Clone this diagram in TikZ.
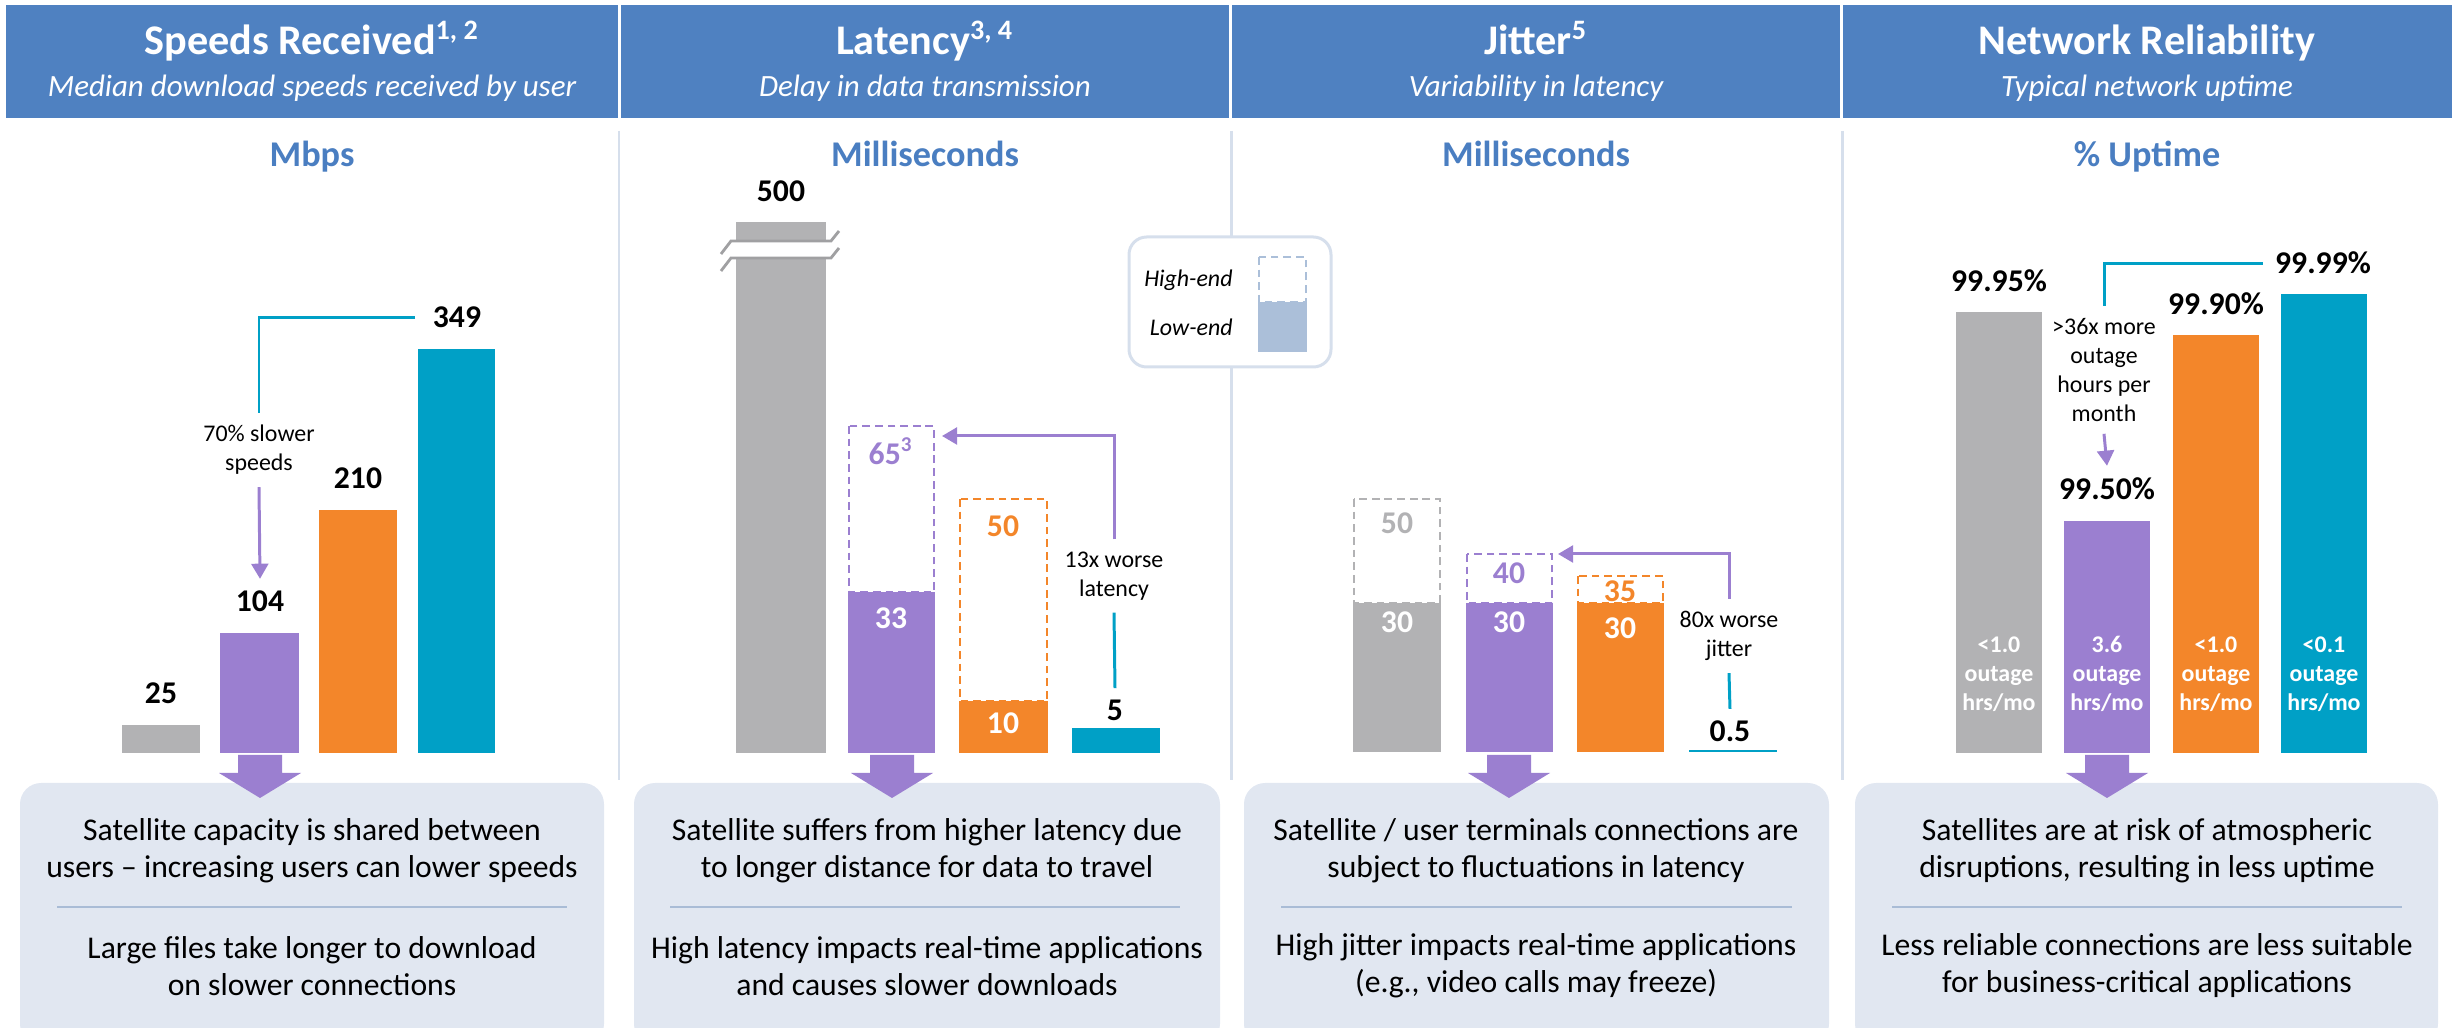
\documentclass[tikz,border=0pt]{standalone}
\usepackage{fontspec}
\setmainfont{Carlito}
\usetikzlibrary{arrows.meta}

\definecolor{hdrblue}{RGB}{79,129,193}
\definecolor{subblue}{RGB}{74,126,193}
\definecolor{bargray}{RGB}{178,178,180}
\definecolor{breakgray}{RGB}{160,160,162}
\definecolor{barpurple}{RGB}{155,127,208}
\definecolor{barorange}{RGB}{243,134,42}
\definecolor{barteal}{RGB}{0,160,198}
\definecolor{boxfill}{RGB}{225,231,241}
\definecolor{rulecol}{RGB}{169,188,214}
\definecolor{sepcol}{RGB}{214,223,236}
\definecolor{legfill}{RGB}{171,191,217}

\begin{document}
\begin{tikzpicture}[x=0.01cm,y=-0.01cm,
    hdrtitle/.style={text=white,font=\fontsize{12}{14}\selectfont\bfseries,anchor=base},
    hdrsub/.style={text=white,font=\fontsize{8.8}{10}\selectfont\itshape,anchor=base},
    unitlabel/.style={text=subblue,font=\fontsize{10.3}{12}\selectfont\bfseries,anchor=base},
    valtext/.style={font=\fontsize{9}{11}\selectfont\bfseries,anchor=base},
    invaltext/.style={font=\fontsize{9}{11}\selectfont\bfseries},
    notetext/.style={font=\fontsize{6.8}{8.2}\selectfont,align=center},
    outagetext/.style={text=white,font=\fontsize{6.8}{8.2}\selectfont\bfseries,align=center},
    sumtext/.style={font=\fontsize{9}{10.5}\selectfont,align=center},
    legtext/.style={font=\fontsize{6.8}{8}\selectfont\itshape,anchor=east},
    hiend/.style={line width=0.7pt,dash pattern=on 2.2pt off 1.4pt},
    linkline/.style={line width=0.85pt},
    tip/.style={-{Triangle[length=4.3pt,width=4.8pt]}}]
  \useasboundingbox (0,0) rectangle (2453,1028);

  % header bands
  \fill[hdrblue] (6,5) rectangle (618,118);
  \fill[hdrblue] (621,5) rectangle (1229,118);
  \fill[hdrblue] (1232,5) rectangle (1840,118);
  \fill[hdrblue] (1843,5) rectangle (2452,118);
  \node[hdrtitle] (t1) at (312,55) {Speeds Received\textsuperscript{1, 2}};
  \node[hdrsub] (s1) at (312,97) {Median download speeds received by user};
  \node[hdrtitle] (t2) at (925,55) {Latency\textsuperscript{3, 4}};
  \node[hdrsub] (s2) at (925,97) {Delay in data transmission};
  \node[hdrtitle] (t3) at (1536,55) {Jitter\textsuperscript{5}};
  \node[hdrsub] (s3) at (1536,97) {Variability in latency};
  \node[hdrtitle] (t4) at (2147,55) {Network Reliability};
  \node[hdrsub] (s4) at (2147,97) {Typical network uptime};

  \node[unitlabel] (u1) at (312,167) {Mbps};
  \node[unitlabel] (u2) at (925,167) {Milliseconds};
  \node[unitlabel] (u3) at (1536,167) {Milliseconds};
  \node[unitlabel] (u4) at (2147,167) {\% Uptime};

  % column separators
  \foreach \sx in {619,1231,1842}
    \draw[sepcol,line width=0.85pt] (\sx,131) -- (\sx,780);

  % legend
  \draw[sepcol,line width=0.85pt,fill=white,rounded corners=5pt] (1129,237) rectangle (1331,367);
  \node[legtext] (leghi) at (1245,280) {High-end};
  \node[legtext] (leglo) at (1245,327) {Low-end};
  \draw[legfill,hiend] (1259,257) rectangle (1306,302);
  \fill[legfill] (1258,302) rectangle (1307,352);

  % speeds
  \fill[bargray] (122,725) rectangle (200,753);
  \fill[barpurple] (220,633) rectangle (299,753);
  \fill[barorange] (319,510) rectangle (397,753);
  \fill[barteal] (418,349) rectangle (495,753);
  \node[valtext] (spd25) at (161,704) {25};
  \node[valtext] (spd104) at (260,612) {104};
  \node[valtext] (spd210) at (358,489) {210};
  \node[valtext] (spd349) at (457,328) {349};
  \node[notetext] (spdnote) at (259,450) {70\% slower\\speeds};
  \draw[linkline,barteal] ([xshift=-1.5pt]spd349.west) -| (spdnote.north);
  \draw[linkline,barpurple,tip] (spdnote.south) -- (spd104.north);

  % latency
  \fill[bargray] (736,222) rectangle (826,753);
  \fill[white] (719,255) -- (731,241) -- (832,241) -- (841,229)
    -- (841,246) -- (831,258) -- (731,258) -- (719,273) -- cycle;
  \draw[breakgray,line width=0.8pt] (721,254) -- (731,241) -- (831,241) -- (839,231);
  \draw[breakgray,line width=0.8pt] (721,271) -- (731,258) -- (831,258) -- (839,248);
  \draw[barpurple,hiend] (849,426) rectangle (934,592);
  \fill[barpurple] (848,592) rectangle (935,753);
  \draw[barorange,hiend] (960,499) rectangle (1047,701);
  \fill[barorange] (959,701) rectangle (1048,753);
  \fill[barteal] (1072,728) rectangle (1160,753);
  \node[valtext] (lat500) at (781,202) {500};
  \node[invaltext,text=barpurple] (lat65) at (891,451) {65\textsuperscript{3}};
  \node[invaltext,text=white] (lat33) at (891,618) {33};
  \node[invaltext,text=barorange] (lat50) at (1003,526) {50};
  \node[invaltext,text=white] (lat10) at (1003,723) {10};
  \node[valtext] (lat5) at (1115,721) {5};
  \node[notetext] (latnote) at (1114,576) {13x worse\\latency};
  \coordinate (lathi) at (942,436);
  \draw[linkline,barteal] (lat5.north) -- (latnote.south);
  \draw[linkline,barpurple,tip] (latnote.north) |- (lathi);

  % jitter
  \draw[bargray,hiend] (1354,499) rectangle (1440,603);
  \fill[bargray] (1353,603) rectangle (1441,752);
  \draw[barpurple,hiend] (1467,554) rectangle (1552,603);
  \fill[barpurple] (1466,603) rectangle (1553,752);
  \draw[barorange,hiend] (1578,576) rectangle (1663,603);
  \fill[barorange] (1577,603) rectangle (1664,752);
  \draw[barteal,line width=0.85pt] (1689,751) -- (1777,751);
  \node[invaltext,text=bargray] (jit50) at (1397,523) {50};
  \node[invaltext,text=white] (jit30a) at (1397,622) {30};
  \node[invaltext,text=barpurple] (jit40) at (1509,573) {40};
  \node[invaltext,text=white] (jit30b) at (1509,622) {30};
  \node[invaltext,text=barorange] (jit35) at (1620,591) {35};
  \node[invaltext,text=white] (jit30c) at (1620,628) {30};
  \node[valtext] (jit05) at (1730,742) {0.5};
  \node[notetext] (jitnote) at (1729,636) {80x worse\\jitter};
  \coordinate (jithi) at (1558,554);
  \draw[linkline,barteal] (jit05.north) -- (jitnote.south);
  \draw[linkline,barpurple,tip] (jitnote.north) |- (jithi);

  % reliability
  \fill[bargray] (1956,312) rectangle (2042,753);
  \fill[barpurple] (2064,521) rectangle (2150,753);
  \fill[barorange] (2173,335) rectangle (2259,753);
  \fill[barteal] (2281,294) rectangle (2367,753);
  \node[valtext] (rel9995) at (1999,292) {99.95\%};
  \node[valtext] (rel9950) at (2107,500) {99.50\%};
  \node[valtext] (rel9990) at (2216,315) {99.90\%};
  \node[valtext] (rel9999) at (2323,274) {99.99\%};
  \node[outagetext] (out1) at (1999,674) {<1.0\\outage\\hrs/mo};
  \node[outagetext] (out2) at (2107,674) {3.6\\outage\\hrs/mo};
  \node[outagetext] (out3) at (2216,674) {<1.0\\outage\\hrs/mo};
  \node[outagetext] (out4) at (2324,674) {<0.1\\outage\\hrs/mo};
  \node[notetext] (relnote) at (2104,370) {>36x more\\outage\\hours per\\month};
  \draw[linkline,barteal] (rel9999.west) -| (relnote.north);
  \draw[linkline,barpurple,tip] (relnote.south) -- (rel9950.north);

  % summary boxes
  \fill[boxfill,rounded corners=6pt] (20,783) rectangle (604,1045);
  \fill[boxfill,rounded corners=6pt] (634,783) rectangle (1220,1045);
  \fill[boxfill,rounded corners=6pt] (1244,783) rectangle (1829,1045);
  \fill[boxfill,rounded corners=6pt] (1855,783) rectangle (2438,1045);
  \draw[rulecol,line width=0.85pt] (57,907) -- (567,907);
  \draw[rulecol,line width=0.85pt] (670,907) -- (1180,907);
  \draw[rulecol,line width=0.85pt] (1281,907) -- (1792,907);
  \draw[rulecol,line width=0.85pt] (1892,907) -- (2402,907);
  \foreach \cx in {260,892,1509,2107}
    \fill[barpurple] (\cx-22,755) -- (\cx+22,755) -- (\cx+22,773) -- (\cx+41,773)
      -- (\cx,798) -- (\cx-41,773) -- (\cx-22,773) -- cycle;

  \node[sumtext] (sum1a) at (312,851) {Satellite capacity is shared between\\users – increasing users can lower speeds};
  \node[sumtext] (sum1b) at (312,966) {Large files take longer to download\\on slower connections};
  \node[sumtext] (sum2a) at (927,851) {Satellite suffers from higher latency due\\to longer distance for data to travel};
  \node[sumtext] (sum2b) at (927,966) {High latency impacts real-time applications\\and causes slower downloads};
  \node[sumtext] (sum3a) at (1536,851) {Satellite / user terminals connections are\\subject to fluctuations in latency};
  \node[sumtext] (sum3b) at (1536,966) {High jitter impacts real-time applications\\(e.g., video calls may freeze)};
  \node[sumtext] (sum4a) at (2147,851) {Satellites are at risk of atmospheric\\disruptions, resulting in less uptime};
  \node[sumtext] (sum4b) at (2147,966) {Less reliable connections are less suitable\\for business-critical applications};
\end{tikzpicture}
\end{document}
